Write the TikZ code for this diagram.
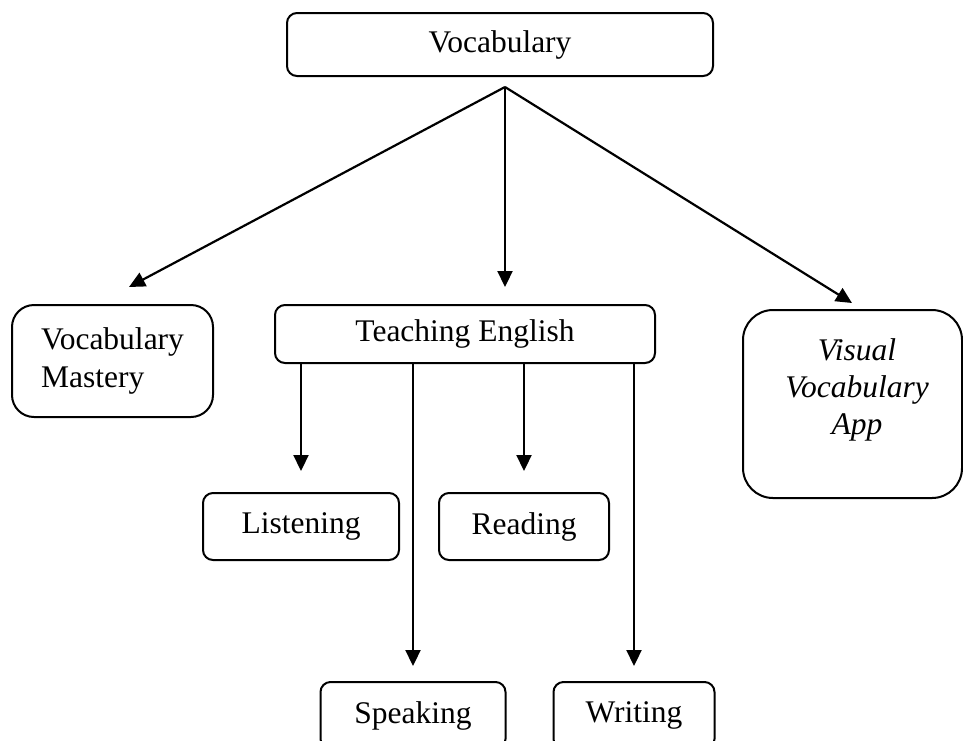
\documentclass[tikz,border=0pt]{standalone}
\usepackage{fontspec}
\setmainfont{Liberation Serif}
\usetikzlibrary{arrows.meta}
\begin{document}
\begin{tikzpicture}[x=1pt,y=-1pt,
  txt/.style={font=\fontsize{31.5}{38}\selectfont, inner sep=0pt},
  box/.style={txt, draw, line width=2pt, rounded corners=10pt},
  arr/.style={line width=2.2pt, -{Triangle[length=16pt,width=15pt]}}
]
\useasboundingbox (0,0) rectangle (963,740);
\clip (0,0) rectangle (963,740);

\node[box, minimum width=426pt, minimum height=63pt] (vocab) at (500,44.5) {Vocabulary};
\node[box, rounded corners=22pt, minimum width=201pt, minimum height=112pt, align=left] (mastery) at (112.5,361) {Vocabulary\\Mastery};
\node[box, minimum width=380pt, minimum height=58pt] (teach) at (465,334) {Teaching English};
\node[box, rounded corners=30pt, minimum width=219pt, minimum height=188pt] (visual) at (852.5,404) {};
\node[txt, align=center, font=\fontsize{31.5}{37}\selectfont\itshape] (visualtext) at (857,390) {Visual\\Vocabulary\\App};

\node[box, minimum width=196pt, minimum height=67pt] (listen) at (301,526.5) {Listening};
\node[box, minimum width=170pt, minimum height=67pt] (read) at (524,526.5) {Reading};
\node[box, minimum width=185pt, minimum height=67pt] (speak) at (413,715.5) {Speaking};
\node[box, minimum width=161pt, minimum height=67pt] (write) at (634,715.5) {Writing};

\coordinate (apex) at (505,87);
\coordinate (tipL) at (129,287);
\coordinate (tipM) at (505,287);
\coordinate (tipR) at (852,303);
\draw[arr] (apex) -- (tipL);
\draw[arr] (apex) -- (tipM);
\draw[arr] (apex) -- (tipR);

\draw[arr, shorten >=21pt] (teach.south -| listen.north) -- (listen.north);
\draw[arr, shorten >=21pt] (teach.south -| read.north) -- (read.north);
\draw[arr, shorten >=15pt] (teach.south -| speak.north) -- (speak.north);
\draw[arr, shorten >=15pt] (teach.south -| write.north) -- (write.north);
\end{tikzpicture}
\end{document}
